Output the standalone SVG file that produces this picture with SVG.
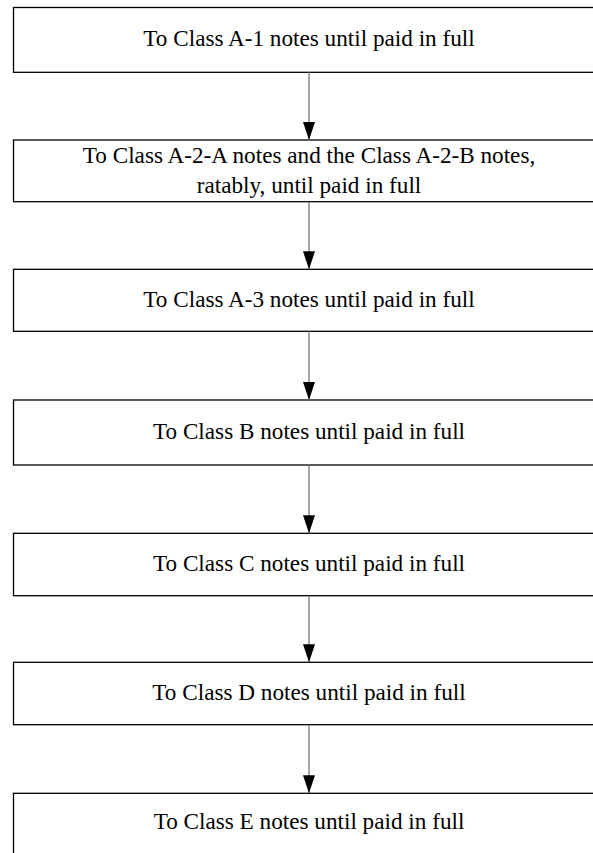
<svg xmlns="http://www.w3.org/2000/svg" width="593" height="853" viewBox="0 0 593 853">
<style>
.box{fill:#fff;stroke:#000;stroke-width:1.3}
.lbl{font-family:"Liberation Serif","Times New Roman",serif;font-size:23.2px;fill:#000;text-anchor:middle}
.conn{stroke:#777;stroke-width:1.3;fill:none}
</style>
<defs>
<marker id="ah" markerUnits="userSpaceOnUse" markerWidth="18" markerHeight="12" refX="18" refY="6" orient="auto" viewBox="0 0 18 12">
<polygon points="0,0 18,6 0,12" fill="#000"/>
</marker>
</defs>
<rect x="0" y="0" width="593" height="853" fill="#fff"/>
<g id="n1"><rect class="box" x="13.5" y="7.5" width="591" height="64.8"/><text class="lbl" x="309" y="46">To Class A-1 notes until paid in full</text></g>
<g id="n2"><rect class="box" x="13.5" y="140" width="591" height="61.7"/><text class="lbl" x="309" y="163.3">To Class A-2-A notes and the Class A-2-B notes,</text><text class="lbl" x="309" y="192.7">ratably, until paid in full</text></g>
<g id="n3"><rect class="box" x="13.5" y="269.3" width="591" height="62"/><text class="lbl" x="309" y="306.5">To Class A-3 notes until paid in full</text></g>
<g id="n4"><rect class="box" x="13.5" y="400" width="591" height="65"/><text class="lbl" x="309" y="438.5">To Class B notes until paid in full</text></g>
<g id="n5"><rect class="box" x="13.5" y="533.3" width="591" height="62.4"/><text class="lbl" x="309" y="570.5">To Class C notes until paid in full</text></g>
<g id="n6"><rect class="box" x="13.5" y="662.3" width="591" height="62.4"/><text class="lbl" x="309" y="699.5">To Class D notes until paid in full</text></g>
<g id="n7"><rect class="box" x="13.5" y="793.3" width="591" height="70"/><text class="lbl" x="309" y="829">To Class E notes until paid in full</text></g>
<g id="connectors">
<line class="conn" x1="309" y1="72.3" x2="309" y2="140" marker-end="url(#ah)"/>
<line class="conn" x1="309" y1="201.7" x2="309" y2="269.3" marker-end="url(#ah)"/>
<line class="conn" x1="309" y1="331.3" x2="309" y2="400" marker-end="url(#ah)"/>
<line class="conn" x1="309" y1="465" x2="309" y2="533.3" marker-end="url(#ah)"/>
<line class="conn" x1="309" y1="595.7" x2="309" y2="662.3" marker-end="url(#ah)"/>
<line class="conn" x1="309" y1="724.7" x2="309" y2="793.3" marker-end="url(#ah)"/>
</g>
</svg>
